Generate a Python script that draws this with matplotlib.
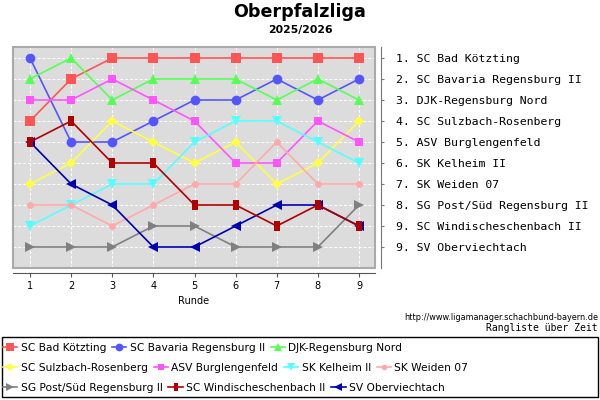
import matplotlib
matplotlib.use("Agg")
import matplotlib.pyplot as plt
from matplotlib.patches import Rectangle
from matplotlib.lines import Line2D

rounds = [1, 2, 3, 4, 5, 6, 7, 8, 9]

teams = [
    "SC Bad Kötzting",
    "SC Bavaria Regensburg II",
    "DJK-Regensburg Nord",
    "SC Sulzbach-Rosenberg",
    "ASV Burglengenfeld",
    "SK Kelheim II",
    "SK Weiden 07",
    "SG Post/Süd Regensburg II",
    "SC Windischeschenbach II",
    "SV Oberviechtach",
]

bad_koetzting = [4, 2, 1, 1, 1, 1, 1, 1, 1]
bavaria = [1, 5, 5, 4, 3, 3, 2, 3, 2]
djk_nord = [2, 1, 3, 2, 2, 2, 3, 2, 3]
sulzbach = [7, 6, 4, 5, 6, 5, 7, 6, 4]
burglengenfeld = [3, 3, 2, 3, 4, 6, 6, 4, 5]
kelheim = [9, 8, 7, 7, 5, 4, 4, 5, 6]
weiden = [8, 8, 9, 8, 7, 7, 5, 7, 7]
post_sued = [10, 10, 10, 9, 9, 10, 10, 10, 8]
windischeschenbach = [5, 4, 6, 6, 8, 8, 9, 8, 9]
oberviechtach = [5, 7, 8, 10, 10, 9, 8, 8, 9]

final_places = [1, 2, 3, 4, 5, 6, 7, 8, 9, 9]

series = [bad_koetzting, bavaria, djk_nord, sulzbach, burglengenfeld,
          kelheim, weiden, post_sued, windischeschenbach, oberviechtach]

colors = ["#ff5555", "#5555ff", "#55ff55", "#ffff44", "#ff55ff",
          "#55ffff", "#ffaaaa", "#808080", "#b00000", "#0000b0"]

bar_marker = [(-0.28, -0.5), (0.28, -0.5), (0.28, 0.5), (-0.28, 0.5), (-0.28, -0.5)]
markers = ["s", "o", "^", "D", "s", "v", "o", ">", bar_marker, "<"]
msizes = [7.2, 7, 7.5, 5.5, 5.5, 7, 5, 7, 7.5, 7]

fig = plt.figure(figsize=(6, 4), dpi=100)
ax = fig.add_axes([13 / 600, 1 - 268 / 400, 362 / 600, 221 / 400])
ax.set_facecolor("#dcdcdc")

for i, (name, vals) in enumerate(zip(teams, series)):
    z = 3 if i != 8 else 4
    ax.plot(rounds, vals, color=colors[i], marker=markers[i],
            markersize=msizes[i], linewidth=1.2, zorder=z,
            markeredgewidth=0)

ax.set_xlim(1 - 17 / 41.125, 9 + 16 / 41.125)
ax.set_ylim(11, 1 - 11 / 21)

ax.grid(True, color="white", linestyle=(0, (3, 2)), linewidth=0.7)
ax.set_axisbelow(True)

# gray box around plot area
ax.add_patch(Rectangle((0, 0), 1, 1, transform=ax.transAxes, fill=False,
                       edgecolor="#aaaaaa", linewidth=1.5, clip_on=False, zorder=5))

ax.spines["top"].set_visible(False)
ax.spines["left"].set_visible(False)
ax.spines["bottom"].set_position(("outward", 3.6))
ax.spines["right"].set_position(("outward", 4.3))
ax.spines["bottom"].set_color("#555555")
ax.spines["right"].set_color("#777777")

ax.set_xticks(rounds)
ax.tick_params(axis="x", labelsize=7, length=3, color="#555555", pad=3)
ax.set_xlabel("Runde", fontsize=7, labelpad=3)

ax.yaxis.tick_right()
ax.set_yticks(range(1, 11))
ax.set_yticklabels([f"{p}. {t}" for p, t in zip(final_places, teams)],
                   family="DejaVu Sans Mono", fontsize=8.25)
ax.tick_params(axis="y", length=2.5, color="#777777", pad=8)

fig.text(0.5, 1 - 12 / 400, "Oberpfalzliga", ha="center", va="center",
         fontsize=12.6, fontweight="bold")
fig.text(0.5, 1 - 30 / 400, "2025/2026", ha="center", va="center",
         fontsize=7.8, fontweight="bold")
fig.text(598 / 600, 1 - 317 / 400, "http://www.ligamanager.schachbund-bayern.de",
         ha="right", va="center", fontsize=5.85)
fig.text(598 / 600, 1 - 328 / 400, "Rangliste über Zeit", ha="right", va="center",
         fontsize=7, family="DejaVu Sans Mono")

# legend box
fig.patches.append(Rectangle((2 / 600, 1 - 397 / 400), 596 / 600, 60 / 400,
                             transform=fig.transFigure, fill=False,
                             edgecolor="black", linewidth=1))

legend_rows = [[0, 1, 2], [3, 4, 5, 6], [7, 8, 9]]
row_y = [348, 368, 388]
for row, yy in zip(legend_rows, row_y):
    hs = []
    for i in row:
        hs.append(Line2D([], [], color=colors[i], marker=markers[i],
                         markersize=msizes[i] * 0.8, linewidth=1.2,
                         markeredgewidth=0))
    fig.legend(hs, [teams[i] for i in row], loc="center left",
               bbox_to_anchor=(3 / 600, 1 - yy / 400), ncol=len(row),
               frameon=False, fontsize=7.7, handlelength=1.35,
               handletextpad=0.3, columnspacing=0.55, borderpad=0,
               borderaxespad=0)

fig.savefig("out.png", dpi=100)
